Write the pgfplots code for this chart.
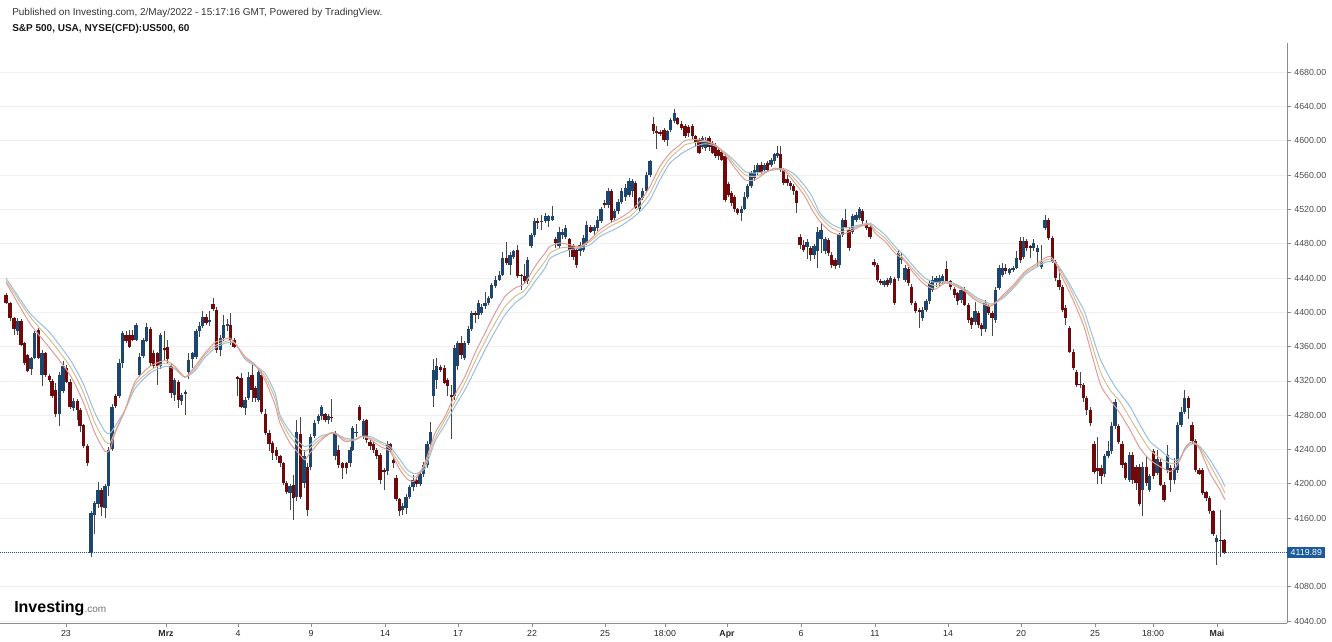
\documentclass[border=0pt]{standalone}
\usepackage{fontspec}
\setmainfont{Liberation Sans}
\usepackage{pgfplots}
\pgfplotsset{compat=1.18}
\usepackage{pgfplotstable}

\definecolor{upc}{HTML}{1C4670}
\definecolor{dnc}{HTML}{700A0A}
\definecolor{wick}{HTML}{484848}
\definecolor{maR}{HTML}{E39A96}
\definecolor{maT}{HTML}{D6BE8E}
\definecolor{maB}{HTML}{96BEE0}
\definecolor{axisgray}{HTML}{8C8C8C}
\definecolor{lbl}{HTML}{4D4D4D}
\definecolor{lastc}{HTML}{1C5A9A}

% hourly candles, x = pixel position
\pgfplotstableread{
x o h l c
6 4420 4422 4410 4411
10 4411 4412 4390 4393
14 4393 4394 4374 4380
17.3 4378 4393 4373 4390
21 4390 4392 4361 4362
24.7 4364 4365 4338 4341
27.7 4350 4351 4330 4332
31 4334 4348 4327 4347
34.7 4347 4378 4346 4376
38.3 4379 4382 4345 4347
42 4327 4356 4314 4353
45.7 4352 4354 4325 4327
49.3 4326 4328 4319 4321
52 4320 4322 4300 4302
55.7 4310 4318 4278 4281
59.3 4281 4330 4268 4327
63 4308 4343 4306 4337
66.7 4335 4338 4318 4319
70 4319 4322 4287 4290
73.3 4289 4300 4285 4297
77.3 4297 4299 4275 4286
80 4286 4288 4260 4267
83.3 4269 4270 4242 4244
87.3 4244 4246 4221 4224
91 4119 4168 4115 4166
94.7 4164 4180 4141 4178
98 4176 4202 4172 4193
101.7 4193 4195 4163 4173
105 4172 4200 4160 4197
108.3 4197 4243 4186 4240
112 4241 4293 4238 4290
115.3 4302 4305 4289 4291
119 4302 4345 4300 4341
122.3 4341 4378 4335 4376
126 4374 4378 4364 4366
129.3 4374 4379 4358 4360
132.7 4374 4379 4366 4368
136 4368 4387 4366 4385
139.7 4327 4353 4325 4348
143 4349 4370 4347 4368
146.7 4366 4388 4365 4383
150.3 4381 4383 4337 4341
153.7 4352 4356 4334 4337
157.3 4352 4354 4315 4337
160.7 4337 4376 4334 4374
164.3 4358 4378 4343 4356
167.7 4360 4368 4341 4345
171 4337 4340 4300 4306
174.7 4304 4323 4297 4321
178.3 4319 4321 4289 4298
181.7 4297 4306 4292 4304
185.3 4305 4310 4280 4307
188.7 4330 4352 4322 4344
192.3 4345 4354 4335 4352
196 4348 4380 4346 4378
199.3 4378 4389 4371 4384
202.7 4384 4401 4382 4395
206 4395 4398 4385 4387
209.7 4389 4401 4384 4391
213 4410 4417 4402 4404
216.7 4403 4406 4352 4356
220.3 4356 4374 4349 4370
223.7 4370 4397 4366 4385
227.3 4384 4392 4378 4386
230.7 4385 4399 4362 4368
234 4368 4370 4358 4360
237.7 4325 4326 4302 4323
241 4323 4329 4288 4290
245 4288 4301 4280 4298
248.3 4300 4331 4298 4325
252 4327 4340 4296 4310
255 4312 4314 4296 4300
258.3 4298 4334 4296 4331
261.7 4327 4332 4282 4284
265.3 4282 4287 4257 4259
269 4259 4263 4238 4246
272.7 4248 4250 4228 4236
276.7 4240 4243 4228 4232
280 4232 4234 4220 4224
283.3 4224 4226 4199 4201
286.7 4201 4203 4188 4191
290 4189 4200 4170 4197
293.3 4199 4210 4158 4183
296.7 4185 4275 4180 4261
300.7 4258 4278 4182 4185
304 4201 4240 4195 4232
307.3 4220 4224 4162 4170
310.7 4220 4258 4216 4255
314.3 4256 4275 4253 4271
318.3 4273 4281 4270 4279
321.7 4279 4292 4275 4290
325 4281 4283 4272 4275
328.3 4274 4282 4270 4279
331.7 4278 4299 4272 4277
335 4232 4262 4228 4259
338.3 4240 4245 4219 4222
342.7 4224 4226 4206 4218
346.7 4224 4226 4212 4218
350 4224 4243 4220 4240
352.7 4240 4268 4238 4265
356 4259 4270 4255 4261
359.3 4290 4292 4273 4275
363.3 4255 4276 4252 4273
366.7 4274 4276 4248 4251
370 4249 4252 4240 4244
373.3 4247 4249 4236 4240
376.7 4240 4242 4229 4232
380 4234 4236 4200 4205
384 4216 4218 4193 4215
387.3 4215 4250 4210 4246
390 4246 4248 4236 4240
393.3 4228 4230 4218 4224
396 4207 4210 4180 4182
399.3 4182 4184 4162 4168
402.7 4170 4178 4164 4174
406 4172 4188 4165 4185
409.5 4185 4199 4182 4196
413 4196 4210 4192 4205
416.5 4205 4208 4196 4200
420 4200 4215 4197 4212
423.5 4212 4225 4208 4222
427 4222 4250 4218 4247
430.5 4247 4272 4244 4261
433.8 4302 4346 4290 4333
436.9 4321 4347 4311 4337
440.3 4336 4338 4330 4333
444.3 4335 4338 4316 4318
447.7 4321 4323 4303 4314
451.2 4304 4315 4252 4302
454.5 4302 4362 4298 4358
457.7 4337 4367 4333 4364
461 4364 4372 4345 4350
464.3 4347 4367 4344 4364
468.3 4364 4384 4362 4381
471.7 4381 4402 4378 4399
475 4399 4401 4388 4397
478.3 4397 4414 4392 4411
481.7 4399 4410 4397 4406
485 4407 4424 4404 4411
488.3 4411 4419 4408 4417
491.7 4417 4434 4415 4432
495.7 4431 4442 4428 4438
499.3 4438 4448 4436 4444
502.7 4444 4470 4442 4463
506.7 4463 4482 4455 4457
510 4455 4470 4443 4467
513.3 4465 4473 4462 4471
517.3 4473 4478 4440 4442
521 4444 4445 4426 4442
524.3 4442 4456 4434 4436
527.7 4436 4464 4433 4461
531 4477 4493 4475 4490
534.3 4490 4510 4488 4506
537.7 4506 4510 4497 4504
541.7 4505 4513 4496 4507
545.3 4507 4516 4504 4512
548.7 4507 4513 4500 4512
552.3 4508 4524 4506 4512
555.5 4485 4488 4475 4481
559 4477 4500 4475 4494
562.3 4490 4497 4486 4494
565.7 4488 4502 4486 4498
569.5 4485 4487 4464 4473
573 4477 4480 4461 4465
576.3 4473 4475 4452 4455
580 4471 4482 4466 4479
583.5 4473 4490 4470 4487
586.9 4481 4506 4478 4502
590.3 4500 4502 4492 4494
594 4495 4502 4490 4500
597.3 4498 4512 4495 4508
601 4506 4523 4504 4520
604.3 4528 4531 4522 4525
608 4525 4545 4522 4541
611.3 4541 4544 4505 4508
614.7 4510 4520 4508 4518
618 4518 4532 4515 4529
621.7 4529 4545 4526 4541
625.3 4535 4549 4530 4545
629 4537 4556 4534 4553
632.3 4541 4555 4535 4553
635.7 4551 4553 4520 4522
639.3 4520 4535 4518 4533
642.7 4533 4545 4531 4541
646.3 4541 4563 4539 4560
650 4560 4578 4558 4576
653.3 4619 4628 4608 4611
656.7 4611 4617 4590 4610
660 4610 4612 4606 4609
664 4613 4615 4598 4601
667.3 4601 4613 4594 4611
670.7 4613 4626 4610 4624
674.3 4623 4637 4621 4632
677.7 4626 4628 4618 4620
681.7 4620 4623 4612 4615
685 4617 4619 4603 4605
688.3 4616 4618 4604 4609
692.3 4617 4619 4602 4605
695.7 4605 4607 4593 4598
699 4601 4603 4584 4586
702.3 4593 4605 4590 4603
705.7 4592 4604 4588 4601
709 4603 4606 4588 4593
712.3 4597 4600 4584 4586
715.3 4595 4597 4580 4582
718.5 4589 4591 4578 4582
721.7 4587 4590 4576 4578
725 4582 4585 4529 4531
728.3 4549 4552 4534 4537
731.5 4539 4541 4524 4527
734.7 4535 4537 4517 4520
737.9 4520 4522 4514 4516
741.1 4516 4524 4507 4521
744.4 4521 4540 4519 4535
747.7 4535 4550 4532 4547
751 4547 4565 4545 4562
754.3 4556 4572 4553 4566
757.7 4564 4574 4560 4572
761 4572 4575 4561 4564
764.3 4566 4574 4562 4572
767.7 4574 4576 4563 4566
771 4572 4580 4569 4578
774.2 4576 4586 4573 4584
777.4 4582 4594 4580 4586
780.6 4585 4594 4563 4566
783.8 4566 4568 4548 4551
787 4555 4560 4547 4551
790.2 4551 4553 4543 4547
793.4 4547 4549 4537 4541
796.7 4541 4543 4516 4527
800 4488 4491 4474 4479
803.5 4479 4484 4470 4473
807 4476 4486 4462 4482
810.5 4475 4477 4460 4467
814 4467 4480 4462 4477
817.3 4471 4500 4452 4494
821 4485 4504 4469 4496
825 4471 4488 4468 4485
828.3 4484 4487 4466 4469
831.7 4467 4470 4452 4455
835 4461 4463 4451 4454
839 4455 4493 4452 4490
842.3 4490 4510 4488 4508
845.7 4508 4521 4498 4500
849 4496 4500 4472 4475
852.3 4494 4515 4491 4512
856 4508 4517 4505 4514
859.3 4510 4523 4508 4520
862.7 4518 4521 4503 4506
866.2 4503 4508 4496 4498
870 4500 4501 4485 4488
874 4459 4462 4453 4455
877.3 4455 4457 4435 4438
880.7 4437 4439 4432 4434
884 4432 4438 4430 4436
887.3 4438 4440 4430 4432
890.7 4434 4442 4432 4440
894.5 4439 4441 4409 4411
898.1 4440 4473 4437 4469
901.7 4461 4469 4456 4465
905 4438 4455 4435 4452
908.3 4450 4453 4431 4434
911.9 4430 4433 4408 4411
915.6 4411 4413 4399 4401
919.3 4403 4405 4382 4400
922.7 4393 4406 4390 4403
926 4403 4416 4400 4413
929.3 4413 4437 4410 4434
932.7 4426 4442 4424 4438
936 4434 4442 4430 4440
939.3 4434 4443 4431 4440
942.7 4436 4445 4433 4442
946.9 4450 4460 4434 4436
950.6 4436 4438 4426 4430
954.3 4427 4430 4417 4420
957.7 4422 4424 4409 4413
961 4414 4429 4411 4426
964.8 4427 4430 4407 4409
968.3 4409 4411 4388 4391
971.7 4393 4395 4381 4385
975 4389 4412 4385 4401
978.3 4399 4401 4382 4385
981.7 4385 4387 4372 4380
985 4380 4414 4377 4411
988.5 4407 4410 4397 4399
992 4399 4401 4372 4393
995.5 4391 4430 4388 4426
999 4428 4455 4426 4452
1002.4 4444 4457 4441 4452
1005.7 4452 4456 4445 4448
1009.2 4446 4452 4443 4450
1013 4449 4454 4447 4452
1016.7 4452 4471 4450 4463
1020.3 4483 4488 4458 4461
1023.6 4465 4488 4462 4483
1026.9 4483 4486 4472 4475
1030.2 4477 4479 4463 4475
1033.5 4475 4485 4472 4481
1037.5 4470 4479 4453 4475
1041.5 4453 4479 4450 4459
1045 4498 4513 4496 4508
1048.8 4508 4510 4484 4487
1052.3 4487 4489 4457 4459
1055.7 4459 4461 4436 4440
1059 4438 4450 4426 4430
1062.4 4430 4432 4400 4403
1065.9 4405 4408 4385 4393
1069.9 4382 4384 4352 4354
1073.3 4354 4357 4333 4335
1076.7 4331 4333 4313 4315
1080 4317 4330 4312 4315
1083.3 4315 4318 4295 4300
1086.7 4300 4303 4280 4286
1090.5 4286 4290 4268 4271
1094 4247 4250 4212 4214
1097.6 4218 4255 4200 4215
1101 4218 4222 4200 4209
1104.4 4211 4235 4208 4232
1108 4232 4250 4230 4238
1111.6 4238 4272 4235 4267
1115 4267 4299 4264 4296
1118.6 4267 4270 4246 4249
1122 4247 4250 4219 4222
1125.5 4224 4226 4204 4207
1129.1 4205 4237 4202 4234
1132.5 4234 4237 4200 4205
1136 4220 4222 4193 4201
1139.4 4220 4223 4174 4176
1142.8 4193 4225 4162 4220
1146.3 4220 4232 4198 4201
1149.8 4193 4212 4190 4209
1153.3 4238 4241 4206 4209
1157 4213 4240 4210 4229
1160.6 4226 4230 4197 4199
1164 4199 4202 4179 4181
1167.4 4216 4245 4213 4234
1170.8 4218 4222 4191 4205
1174.2 4205 4230 4200 4218
1177.5 4216 4272 4213 4269
1181 4269 4290 4266 4284
1184.5 4284 4309 4282 4300
1188.3 4300 4303 4276 4288
1192 4269 4272 4246 4250
1195.5 4250 4252 4214 4216
1199 4216 4219 4210 4212
1202.5 4216 4219 4187 4189
1206 4190 4192 4180 4184
1209.5 4184 4186 4165 4168
1213 4168 4170 4139 4141
1216.7 4132 4140 4106 4137
1220.5 4135 4170 4115 4134
1224 4134 4136 4118 4120
}\candles

\begin{document}
\begin{tikzpicture}[x=0.75pt,y=0.75pt]
\useasboundingbox (0,0) rectangle (1332,642);
\begin{axis}[
  at={(0,22)}, anchor=south west,
  scale only axis, width=965.25pt, height=435pt,
  xmin=0, xmax=1287, ymin=4037.67, ymax=4713.81,
  axis x line*=bottom, axis y line*=right,
  axis line style={axisgray, line width=0.75pt},
  clip=false,
  ytick={4040,4080,4160,4200,4240,4280,4320,4360,4400,4440,4480,4520,4560,4600,4640,4680},
  extra y ticks={4120}, extra y tick labels={},
  extra y tick style={major tick length=0pt},
  scaled y ticks=false,
  /pgf/number format/fixed,
  /pgf/number format/fixed zerofill,
  /pgf/number format/precision=2,
  /pgf/number format/1000 sep={},
  /pgf/number format/assume math mode=true,
  y tick label style={font=\fontsize{6.6}{8}\selectfont, text=lbl, xshift=-1pt},
  xtick={66,166,238,311,385,458,532,605,665,727,801,875,948,1021,1095,1153,1217},
  xticklabels={23,\textbf{Mrz},4,9,14,17,22,25,18:00,\textbf{Apr},6,11,14,20,25,18:00,\textbf{Mai}},
  x tick label style={font=\fontsize{6.6}{8}\selectfont, text=black!85, yshift=1pt},
  tick align=outside, major tick length=3pt,
  tick style={axisgray, line width=0.6pt},
  ymajorgrids, grid style={color=black!6, line width=0.6pt},
]
% wicks
\addplot[draw=none, mark=none, forget plot,
  error bars/.cd, y dir=both, y explicit, error mark=none,
  error bar style={draw=wick, line width=0.75pt}]
  table[x=x, y expr={0.5*(\thisrow{h}+\thisrow{l})}, y error expr={0.5*(\thisrow{h}-\thisrow{l})}] {\candles};
% rising bodies
\addplot[draw=none, mark=none, forget plot,
  restrict expr to domain={\thisrow{c}-\thisrow{o}}{0:1000},
  error bars/.cd, y dir=both, y explicit, error mark=none,
  error bar style={draw=upc, line width=2.3pt}]
  table[x=x, y expr={0.5*(\thisrow{o}+\thisrow{c})}, y error expr={0.5*abs(\thisrow{c}-\thisrow{o})}] {\candles};
% falling bodies
\addplot[draw=none, mark=none, forget plot,
  restrict expr to domain={\thisrow{c}-\thisrow{o}}{-1000:-0.01},
  error bars/.cd, y dir=both, y explicit, error mark=none,
  error bar style={draw=dnc, line width=2.3pt}]
  table[x=x, y expr={0.5*(\thisrow{o}+\thisrow{c})}, y error expr={0.5*abs(\thisrow{c}-\thisrow{o})}] {\candles};

% moving averages
\addplot[maB, line width=0.75pt, smooth, tension=0.4] coordinates {
(6,4439.8) (30,4399) (50,4376) (70,4345) (83,4317.4) (95,4282.4) (105,4261) (110,4259) (115,4267) (125,4286) (135,4311) (150,4329) (165,4336.9) (175,4333.7) (185,4324.4) (195,4332) (205,4347.7) (215,4358.2) (225,4364) (230,4364.8) (235,4364) (245,4345.4) (255,4337.6) (265,4329) (275,4305.8) (280,4280.5) (290,4261) (300,4247.5) (305,4243.6) (310,4245.6) (320,4255.3) (330,4258.4) (335,4259) (345,4253.3) (355,4252) (362,4255.3) (370,4255.3) (380,4249.5) (390,4243.6) (400,4228.1) (408,4215.6) (415,4212) (425,4218) (435,4249.5) (445,4268.9) (455,4290.3) (465,4309.7) (475,4333) (485,4356.3) (495,4377.7) (505,4397.1) (515,4410.7) (525,4420) (535,4436) (545,4451.5) (550,4463) (560,4469) (570,4473) (580,4474.9) (590,4478.7) (600,4488.5) (610,4494.3) (620,4500.1) (630,4507.9) (640,4517.6) (650,4531.2) (660,4554.5) (670,4574) (680,4583.7) (685,4587.6) (695,4593.4) (705,4596.5) (715,4594) (725,4586.4) (735,4575.9) (745,4564.2) (755,4562.3) (765,4564.2) (775,4566.2) (785,4567) (795,4560.3) (805,4546.8) (812,4535) (820,4515.6) (830,4504) (840,4498.2) (850,4499.3) (860,4502) (870,4504) (875,4500) (885,4490.4) (895,4476.8) (905,4465.1) (915,4451.5) (925,4439.9) (935,4434.8) (945,4436) (955,4433.3) (965,4427) (975,4418.5) (985,4412.7) (990,4409.9) (995,4410.7) (1005,4418.5) (1015,4430.2) (1025,4443.8) (1035,4451.5) (1045,4458.1) (1050,4459.3) (1055,4458.1) (1060,4451.5) (1070,4432.1) (1080,4410.7) (1085,4399) (1100,4346) (1113,4317.4) (1120,4305.7) (1130,4290.2) (1140,4268.8) (1150,4249.4) (1160,4239.7) (1170,4230) (1175,4227.2) (1180,4230) (1185,4239.7) (1190,4245.5) (1195,4246.5) (1200,4243.6) (1210,4228) (1220,4208.6) (1225,4196.9)
};
\addplot[maT, line width=0.75pt, smooth, tension=0.4] coordinates {
(6,4437) (30,4395) (50,4368) (70,4337) (83,4307.7) (95,4270.8) (105,4249.4) (110,4247.5) (115,4261) (125,4286) (135,4315.5) (150,4332) (165,4340.7) (175,4335) (185,4324.4) (195,4334.5) (205,4350.5) (215,4361) (225,4366) (230,4367) (235,4364) (245,4347) (255,4338.8) (265,4325) (275,4300) (280,4276.7) (290,4255.3) (300,4241.7) (305,4237.8) (310,4241.7) (320,4252.2) (330,4259.2) (335,4259) (345,4251.4) (355,4251.4) (362,4255.3) (370,4253.3) (380,4247.5) (390,4240.7) (400,4222.2) (408,4210.6) (415,4208) (425,4222) (435,4253) (445,4274.7) (455,4296) (465,4317.5) (475,4342.7) (485,4366) (495,4387.4) (505,4406.8) (515,4418.5) (525,4426) (535,4443.8) (545,4459.3) (550,4469) (560,4474.9) (570,4476) (580,4476) (590,4482.6) (600,4492.3) (610,4500.1) (620,4506) (630,4511.8) (640,4523.4) (650,4539) (660,4562.3) (670,4579.8) (680,4590.3) (685,4595.3) (695,4598) (705,4599.2) (715,4595.3) (725,4585.6) (735,4572) (745,4560.3) (755,4558.4) (765,4563) (775,4567.3) (785,4566.2) (795,4555.3) (805,4541) (812,4527.3) (820,4511.8) (830,4500) (840,4494) (850,4497) (860,4501) (870,4503) (875,4496) (885,4486.5) (895,4473) (905,4461.2) (915,4447.6) (925,4436) (935,4431) (945,4435) (955,4432.1) (965,4425.5) (975,4416.5) (985,4410.7) (990,4408.3) (995,4410.7) (1005,4420.4) (1015,4432.1) (1025,4445.7) (1035,4453.5) (1045,4460.5) (1050,4462) (1055,4459.3) (1060,4449.6) (1070,4428.2) (1080,4403) (1085,4389.3) (1100,4332) (1110,4309.6) (1120,4296) (1130,4276.6) (1140,4257.2) (1150,4239.7) (1160,4230) (1170,4224.1) (1175,4224.1) (1180,4228.5) (1185,4241.6) (1190,4247.5) (1195,4247.5) (1200,4241.6) (1210,4222.2) (1220,4200.8) (1225,4189.2)
};
\addplot[maR, line width=0.75pt, smooth, tension=0.4] coordinates {
(6,4434.8) (30,4387) (50,4358) (70,4327) (83,4296) (95,4259) (105,4237.7) (110,4239.7) (115,4259) (125,4286) (135,4319) (150,4336.9) (165,4343.8) (175,4337) (185,4324.4) (195,4337) (205,4352.4) (215,4364.8) (225,4368.7) (230,4369.9) (235,4364) (245,4348.5) (255,4338.8) (265,4321) (275,4292.2) (280,4270.8) (290,4247.5) (300,4234) (305,4228) (310,4235.9) (320,4249.5) (330,4259.2) (335,4259) (345,4249.5) (355,4251.4) (362,4255.3) (370,4252.2) (380,4243.6) (390,4237.8) (400,4216.4) (408,4204.8) (415,4204) (425,4225) (435,4259) (445,4278.6) (455,4303.9) (465,4325.2) (475,4352.4) (485,4375.7) (495,4399) (505,4418.5) (515,4428.2) (525,4434) (535,4453.5) (545,4469) (550,4476.8) (560,4480.7) (570,4478.7) (580,4476.8) (590,4484.6) (600,4496.2) (610,4504) (620,4509.8) (630,4517.6) (640,4529.3) (650,4546.8) (660,4570) (670,4585.6) (680,4595.3) (685,4600.4) (695,4601.2) (705,4600.4) (715,4595.3) (725,4583.7) (735,4568.1) (745,4554.5) (755,4554.5) (765,4562.3) (775,4568.1) (785,4564.2) (795,4550.6) (805,4535.1) (812,4519.5) (820,4505.9) (830,4494.3) (840,4490.4) (850,4494.3) (860,4500) (870,4502) (875,4492.3) (885,4482.6) (895,4469) (905,4459.3) (915,4443.8) (925,4432.1) (935,4427) (945,4434) (955,4431) (965,4424.3) (975,4414.6) (985,4408.8) (990,4406.8) (995,4410.7) (1005,4422.4) (1015,4434) (1025,4447.6) (1035,4455.4) (1045,4463.2) (1050,4465.1) (1055,4459.3) (1060,4445.7) (1070,4422.4) (1080,4395.2) (1085,4379.6) (1100,4317.4) (1110,4298) (1120,4282.4) (1130,4263) (1140,4241.6) (1150,4228) (1160,4220.2) (1170,4214.4) (1175,4218.3) (1180,4228) (1185,4241.6) (1190,4248.2) (1195,4247.5) (1200,4239.7) (1210,4212.5) (1220,4193) (1225,4181.4)
};

% last price line
\addplot[lastc, line width=0.6pt, dash pattern=on 0.6pt off 0.9pt] coordinates {(0,4119.89) (1287,4119.89)};
\node[anchor=west, fill=lastc, text=white, inner xsep=2.6pt, inner ysep=1.8pt,
  font=\fontsize{6.6}{8}\selectfont] at (axis cs:1287,4119.89) {4119.89};
\end{axis}

\node[anchor=base west, inner sep=0pt, text=black!80, font=\fontsize{7.5}{9}\selectfont]
  at (12,626) {Published on Investing.com, 2/May/2022 - 15:17:16 GMT, Powered by TradingView.};
\node[anchor=base west, inner sep=0pt, text=black!90, font=\fontsize{7.5}{9}\selectfont\bfseries]
  at (12,610) {S\&P 500, USA, NYSE(CFD):US500, 60};
\node[anchor=base west, inner sep=0pt] at (14,29)
  {\fontsize{12}{12}\selectfont\bfseries Investing\textcolor{black!55}{\fontsize{7.5}{8}\selectfont\mdseries.com}};
\end{tikzpicture}
\end{document}
